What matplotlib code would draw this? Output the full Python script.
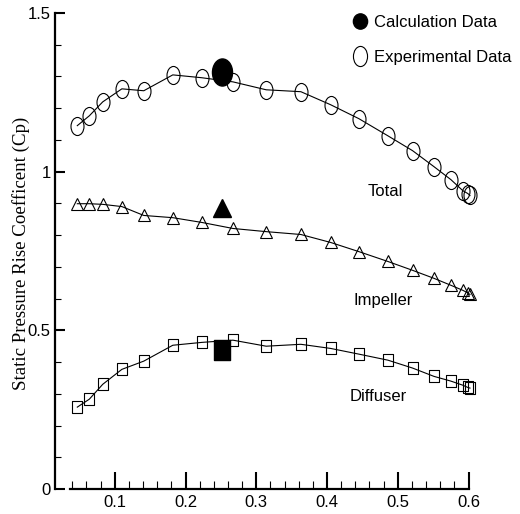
import numpy as np
import matplotlib
matplotlib.use("Agg")
import matplotlib.pyplot as plt
from matplotlib.path import Path
from matplotlib.lines import Line2D

# flow coefficient (x) and Cp values
x_exp = [0.047, 0.064, 0.083, 0.110, 0.141, 0.182, 0.223, 0.267, 0.314, 0.363,
         0.405, 0.445, 0.486, 0.521, 0.551, 0.575, 0.592, 0.599, 0.602]
cp_total = [1.145, 1.176, 1.220, 1.261, 1.255, 1.305, 1.296, 1.283, 1.258, 1.252,
            1.211, 1.167, 1.113, 1.066, 1.016, 0.975, 0.940, 0.931, 0.925]
cp_impeller = [0.899, 0.899, 0.897, 0.890, 0.862, 0.855, 0.840, 0.821, 0.811, 0.802,
               0.777, 0.748, 0.717, 0.689, 0.664, 0.642, 0.626, 0.618, 0.613]
cp_diffuser = [0.258, 0.283, 0.330, 0.377, 0.403, 0.453, 0.462, 0.469, 0.450, 0.456,
               0.443, 0.425, 0.406, 0.381, 0.355, 0.340, 0.327, 0.320, 0.318]

# calculation at design point
x_calc = 0.251
calc_total = 1.314
calc_impeller = 0.884
calc_diffuser = 0.439

curve_labels = ["Total", "Impeller", "Diffuser"]
label_pos = [(0.482, 0.937), (0.480, 0.594), (0.472, 0.292)]

sans = ["Liberation Sans Narrow", "Liberation Sans", "DejaVu Sans"]
serif = ["Liberation Serif", "DejaVu Serif"]


def ellipse_marker(ratio):
    c = Path.unit_circle()
    return Path(c.vertices * np.array([ratio, 1.0]), c.codes)


def rect_marker(ratio):
    w = 0.5 * ratio
    return Path([(-w, -0.5), (w, -0.5), (w, 0.5), (-w, 0.5), (-w, -0.5)],
                [Path.MOVETO, Path.LINETO, Path.LINETO, Path.LINETO, Path.CLOSEPOLY])


circ = ellipse_marker(0.72)
circ_big = ellipse_marker(0.74)
sq = rect_marker(0.85)
sq_big = rect_marker(0.79)

fig = plt.figure(figsize=(5.2, 5.14), dpi=100)
ax = fig.add_axes([55 / 520, 25 / 514, 456 / 520, 476 / 514])

lw = 0.8
ax.plot(x_exp, cp_total, '-', color='k', lw=lw, marker=circ, ms=13,
        mfc='none', mec='k', mew=0.8)
ax.plot(x_exp, cp_impeller, '-', color='k', lw=lw, marker='^', ms=8.5,
        mfc='none', mec='k', mew=0.8)
ax.plot(x_exp, cp_diffuser, '-', color='k', lw=lw, marker=sq, ms=8.8,
        mfc='none', mec='k', mew=0.8)

ax.plot([x_calc], [calc_total], ls='none', marker=circ_big, ms=19.5, color='k')
ax.plot([x_calc], [calc_impeller], ls='none', marker='^', ms=13.5, color='k')
ax.plot([x_calc], [calc_diffuser], ls='none', marker=sq_big, ms=13.8, color='k')

for lab, (tx, ty) in zip(curve_labels, label_pos):
    ax.text(tx, ty, lab, ha='center', va='center', fontsize=12, family=sans)

ax.set_xlim(0.0155, 0.66)
ax.set_ylim(0, 1.5)

for s in ['top', 'right']:
    ax.spines[s].set_visible(False)
ax.spines['left'].set_linewidth(1.6)
ax.spines['bottom'].set_linewidth(1.6)
ax.spines['bottom'].set_bounds(0.037, 0.6)

ax.set_yticks([0, 0.5, 1, 1.5])
ax.set_yticklabels(['0', '0.5', '1', '1.5'])
ax.set_yticks(np.arange(0, 1.51, 0.1), minor=True)
ax.set_xticks([0.1, 0.2, 0.3, 0.4, 0.5, 0.6])
ax.set_xticklabels(['0.1', '0.2', '0.3', '0.4', '0.5', '0.6'])
ax.set_xticks(np.arange(0.04, 0.59, 0.02), minor=True)

ax.tick_params(axis='y', which='major', direction='in', length=7, width=1.5,
               pad=3, labelsize=12)
ax.tick_params(axis='y', which='minor', direction='in', length=4, width=0.8)
ax.tick_params(axis='x', which='major', direction='in', length=12, width=1.5,
               pad=4, labelsize=12)
ax.tick_params(axis='x', which='minor', direction='in', length=6, width=0.8)
for t in ax.get_xticklabels() + ax.get_yticklabels():
    t.set_family(sans)

# y label placed at its spot in the original
fig.text(21 / 520, 1 - 253 / 514, "Static Pressure Rise Coefficent (Cp)",
         rotation=90, ha='center', va='center', family=serif, fontsize=13.6)

h_calc = Line2D([], [], ls='none', marker=ellipse_marker(0.93), ms=11, color='k')
h_exp = Line2D([], [], ls='none', marker=ellipse_marker(0.7), ms=14.5,
               mfc='none', mec='k', mew=0.8)
leg = ax.legend([h_calc, h_exp], ["Calculation Data", "Experimental Data"],
                loc='upper left', bbox_to_anchor=(352 / 520, 1 - 15 / 514),
                bbox_transform=fig.transFigure, frameon=False,
                handlelength=0.9, handletextpad=0.4, labelspacing=1.2,
                borderpad=0, borderaxespad=0, prop={'family': sans, 'size': 12})

fig.savefig("out.png", dpi=100)
